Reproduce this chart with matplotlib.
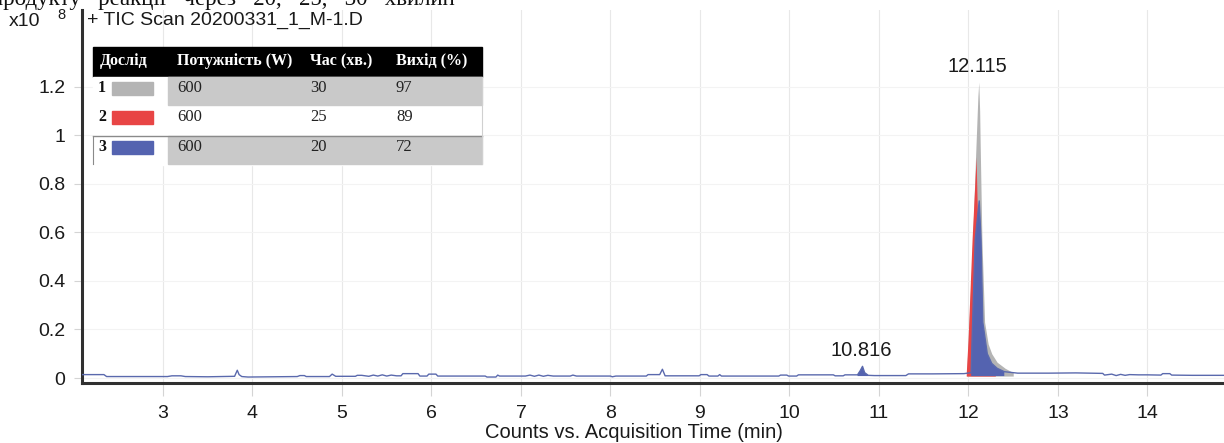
import numpy as np
import matplotlib
matplotlib.use("Agg")
from matplotlib import pyplot as plt
from matplotlib.patches import Rectangle

# ---- data (x = min, y = counts x10^8) ----
# run 3 (blue): full trace, baseline + peaks
blue_t = [2.10, 2.34, 2.37, 3.05, 3.10, 3.20, 3.25, 3.50, 3.80, 3.83, 3.85, 3.88, 3.95,
          4.50, 4.53, 4.58, 4.60, 4.86, 4.89, 4.93, 5.15, 5.17, 5.22, 5.30, 5.35, 5.40,
          5.45, 5.50, 5.55, 5.61, 5.66, 5.68, 5.85, 5.87, 5.95, 5.97, 6.05, 6.07, 6.60,
          6.62, 6.72, 6.74, 6.76, 7.05, 7.10, 7.15, 7.20, 7.25, 7.30, 7.36, 7.55, 7.58,
          7.62, 8.00, 8.02, 8.06, 8.40, 8.42, 8.55, 8.58, 8.61, 8.99, 9.01, 9.08, 9.10,
          9.20, 9.22, 9.24, 9.88, 9.90, 9.97, 9.99, 10.08, 10.10, 10.49, 10.51, 10.60,
          10.62, 10.76, 10.79, 10.816, 10.84, 10.88, 10.95, 11.30, 11.33, 11.60, 11.95,
          12.03, 12.04, 12.075, 12.12, 12.14, 12.16, 12.21, 12.26, 12.32, 12.40, 12.55,
          12.90, 13.20, 13.50, 13.52, 13.60, 13.65, 13.70, 13.75, 13.80, 13.90, 14.00,
          14.15, 14.17, 14.25, 14.27, 14.50, 14.85]
blue_y = [0.014, 0.014, 0.006, 0.006, 0.009, 0.009, 0.006, 0.005, 0.007, 0.032, 0.014,
          0.006, 0.004, 0.006, 0.010, 0.010, 0.006, 0.006, 0.016, 0.007, 0.007, 0.011,
          0.011, 0.007, 0.012, 0.008, 0.013, 0.008, 0.012, 0.009, 0.009, 0.018, 0.018,
          0.008, 0.008, 0.016, 0.016, 0.008, 0.008, 0.004, 0.004, 0.012, 0.008, 0.008,
          0.012, 0.007, 0.012, 0.007, 0.011, 0.008, 0.008, 0.012, 0.008, 0.008, 0.005,
          0.008, 0.008, 0.014, 0.014, 0.036, 0.009, 0.009, 0.014, 0.014, 0.008, 0.008,
          0.014, 0.008, 0.008, 0.012, 0.012, 0.008, 0.008, 0.013, 0.013, 0.009, 0.009,
          0.013, 0.013, 0.030, 0.048, 0.022, 0.011, 0.010, 0.010, 0.017, 0.017, 0.018,
          0.022, 0.156, 0.57, 0.73, 0.57, 0.23, 0.10, 0.06, 0.04, 0.026, 0.020, 0.020,
          0.021, 0.019, 0.012, 0.016, 0.010, 0.015, 0.011, 0.014, 0.013, 0.013, 0.012,
          0.018, 0.018, 0.012, 0.011, 0.011]

# run 2 (red), main peak only
red_t = [11.975, 11.995, 12.04, 12.085, 12.095, 12.11, 12.13, 12.15, 12.20, 12.30]
red_y = [0.020, 0.156, 0.57, 0.91, 0.75, 0.55, 0.35, 0.15, 0.06, 0.025]

# run 1 (grey), main peak only
grey_t = [11.98, 12.04, 12.08, 12.105, 12.115, 12.125, 12.13, 12.15, 12.18, 12.22,
          12.26, 12.32, 12.41, 12.50]
grey_y = [0.020, 0.50, 0.92, 1.16, 1.22, 1.10, 0.98, 0.57, 0.23, 0.14, 0.10, 0.065,
          0.04, 0.022]

peak_labels = [(12.115, 1.22, "12.115"), (10.816, 0.048, "10.816")]

x_ticks = list(range(3, 15))
y_ticks = [0, 0.2, 0.4, 0.6, 0.8, 1.0, 1.2]
y_tick_labels = ["0", "0.2", "0.4", "0.6", "0.8", "1", "1.2"]

# legend table
tbl_header = ["Дослід", "Потужність (W)", "Час (хв.)", "Вихід (%)"]
tbl_runs = ["1", "2", "3"]
tbl_power = ["600", "600", "600"]
tbl_time = ["30", "25", "20"]
tbl_yield = ["97", "89", "72"]

c_grey = "#b4b4b4"
c_red = "#e84545"
c_blue = "#5463b0"
run_colors = [c_grey, c_red, c_blue]

W, H = 1224, 443
fig = plt.figure(figsize=(W / 100, H / 100), dpi=100)
ax = fig.add_axes([82 / W, 1 - 383 / H, 1 - 82 / W, (383 - 10) / H])

ax.set_xlim(2.095, 14.855)
ax.set_ylim(-0.0206, 1.517)

# peaks: grey behind, red, blue in front
bt = np.array(blue_t)
by = np.array(blue_y)
ax.fill_between(grey_t, grey_y, 0.008, color=c_grey, lw=0, zorder=2)
ax.fill_between(red_t, red_y, 0.008, color=c_red, lw=0, zorder=3)
mask = ((bt >= 12.0) & (bt <= 12.45)) | ((bt >= 10.75) & (bt <= 10.9))
ax.fill_between(bt, by, 0.008, where=mask, color=c_blue, lw=0, zorder=4)
ax.plot(bt, by, color="#5a69ad", lw=1.0, zorder=5)

for px, py, lab in peak_labels:
    ax.text(px - 0.015, py + 0.025, lab, ha="center", va="bottom",
            fontsize=14.5, family="Liberation Sans", color="#1a1a1a")

ax.set_xticks(x_ticks)
ax.set_yticks(y_ticks)
ax.set_yticklabels(y_tick_labels)
ax.grid(axis="x", color="#e8e8e8", lw=0.8, zorder=0)
ax.grid(axis="y", color="#f3f3f3", lw=0.8, zorder=0)
ax.tick_params(axis="x", length=9, width=0.8, color="#d4d4d4", pad=7,
               labelsize=14, labelcolor="#1a1a1a")
ax.tick_params(axis="y", length=6, width=0.8, color="#d4d4d4", pad=6,
               labelsize=14, labelcolor="#1a1a1a")
for lab in ax.get_xticklabels() + ax.get_yticklabels():
    lab.set_family("Liberation Sans")
for s in ["top", "right"]:
    ax.spines[s].set_visible(False)
for s in ["left", "bottom"]:
    ax.spines[s].set_color("#303030")
    ax.spines[s].set_linewidth(2.2)

# texts around the plot
fig.text(634 / W, 1 - 432 / H, "Counts vs. Acquisition Time (min)", ha="center",
         va="center", fontsize=14.5, family="Liberation Sans", color="#1a1a1a")
fig.text(9 / W, 1 - 22 / H, "x10", ha="left", va="center", fontsize=14,
         family="Liberation Sans", color="#1a1a1a")
fig.text(57 / W, 1 - 15 / H, "8", ha="left", va="center", fontsize=10.5,
         family="Liberation Sans", color="#1a1a1a")
fig.text(87 / W, 1 - 20 / H, "+ TIC Scan 20200331_1_M-1.D", ha="left", va="center",
         fontsize=14, family="Liberation Sans", color="#1a1a1a")
# page text above the figure, cut off by the crop
fig.text(-9 / W, 1 - 5 / H, "продукту   реакції   через   20,   25,   30   хвилин",
         ha="left", va="baseline", fontsize=16.5, family="Liberation Serif",
         color="#111111")

# legend table drawn in pixel space
tab = fig.add_axes([0, 0, 1, 1], zorder=10)
tab.set_xlim(0, W)
tab.set_ylim(H, 0)
tab.axis("off")
tab.patch.set_alpha(0)

x0, x1, xs = 93, 482, 168
tab.add_patch(Rectangle((x0, 47), x1 - x0, 30, color="black"))
tab.add_patch(Rectangle((x0, 77), x1 - x0, 88, color="white"))
tab.add_patch(Rectangle((xs, 77), x1 - xs, 28, color="#c9c9c9"))
tab.add_patch(Rectangle((xs, 136), x1 - xs, 28, color="#c9c9c9"))
tab.plot([x0, x1], [135.5, 135.5], color="#8a8a8a", lw=1)
tab.plot([x0, x0], [135.5, 164], color="#8a8a8a", lw=0.8)
tab.plot([x1, x1], [77, 164], color="#d0d0d0", lw=0.8)

col_x = [98, 177, 310, 396]
for cx, h in zip(col_x, tbl_header):
    tab.text(cx + (2 if cx == 98 else 0), 61, h, ha="left", va="center", color="white",
             fontsize=11.5, fontweight="bold", family="Liberation Serif")

row_y = [88, 117, 147]
for i, ry in enumerate(row_y):
    tab.text(col_x[0], ry, tbl_runs[i], ha="left", va="center", fontsize=11.5,
             fontweight="bold", family="Liberation Serif", color="#111111")
    tab.add_patch(Rectangle((112, ry - 6.5), 41, 13, color=run_colors[i]))
    for cx, vals in zip(col_x[1:], [tbl_power, tbl_time, tbl_yield]):
        tab.text(cx, ry, vals[i], ha="left", va="center", fontsize=12,
                 family="Liberation Serif", color="#222222")

fig.savefig("out.png", dpi=100)
